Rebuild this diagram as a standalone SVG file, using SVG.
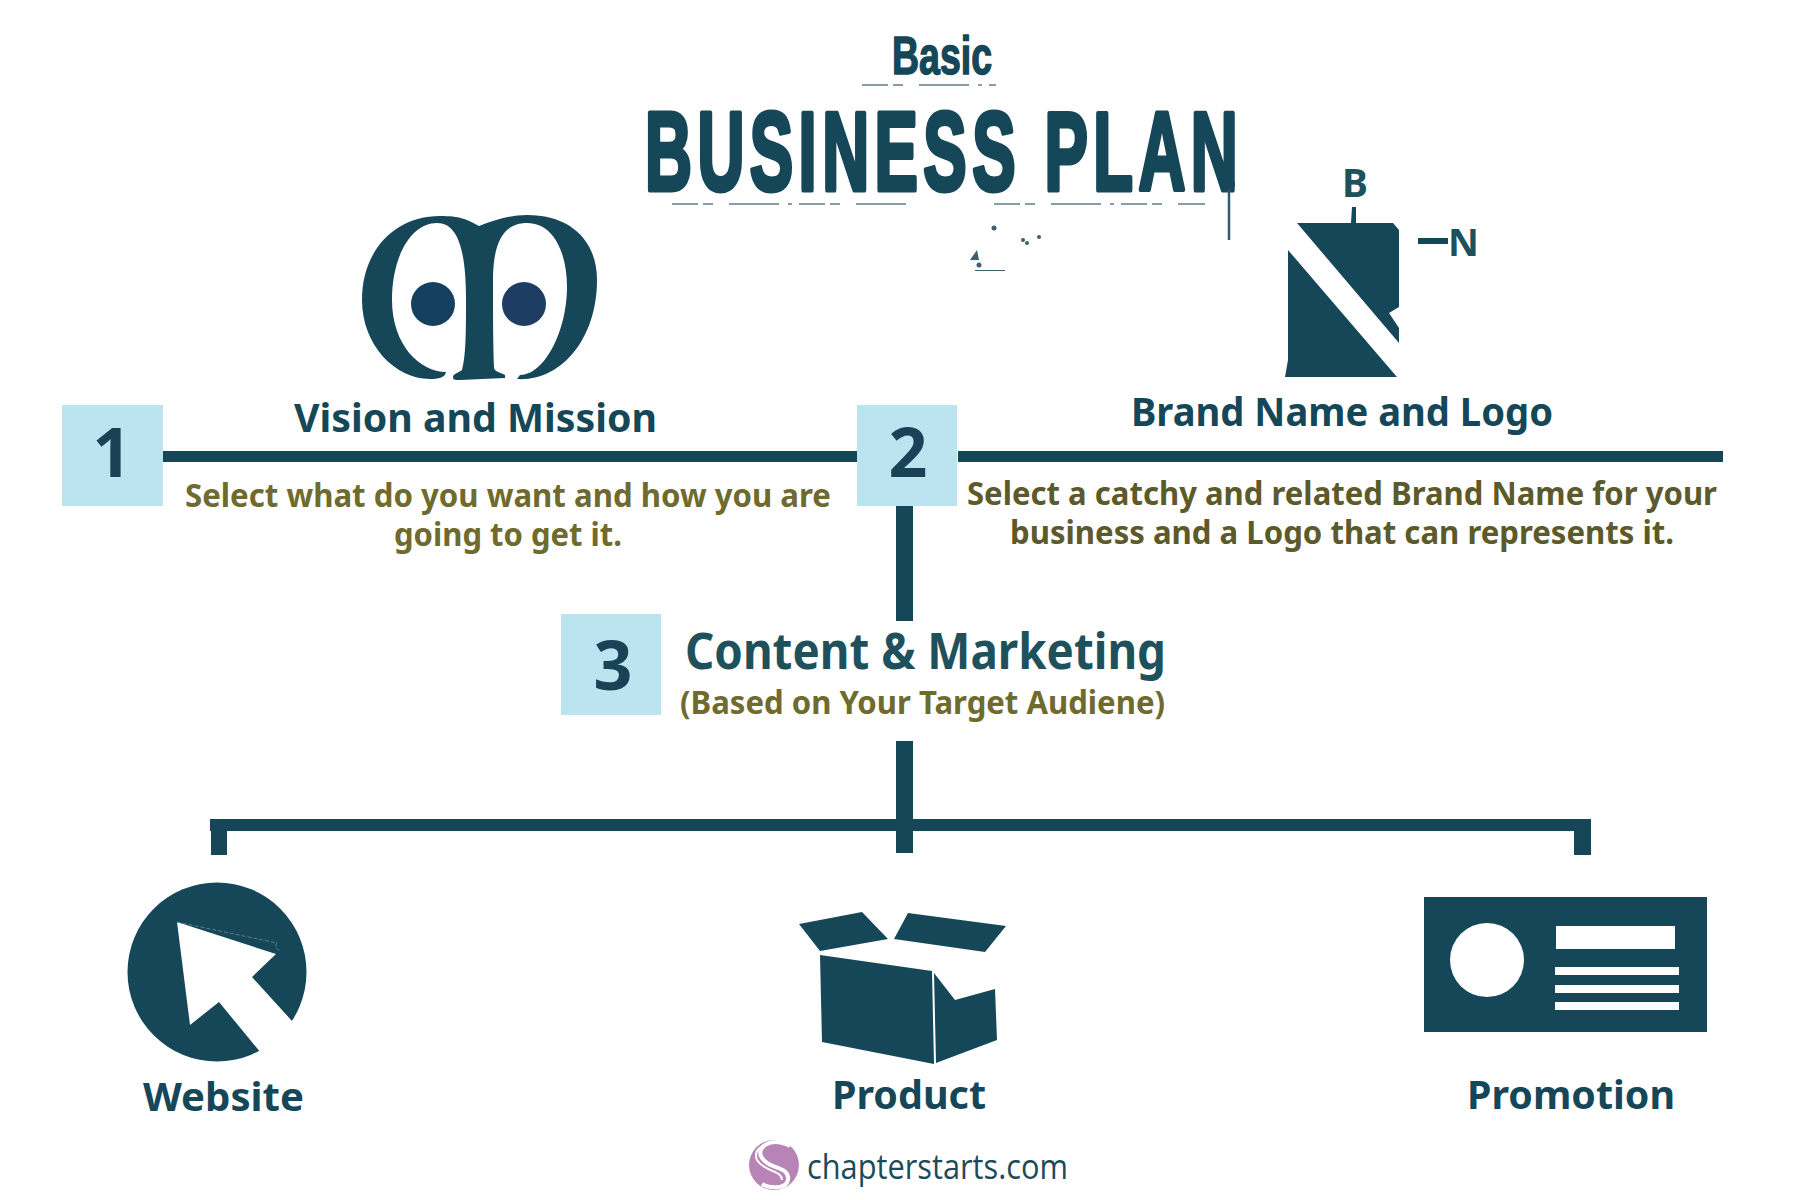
<svg xmlns="http://www.w3.org/2000/svg" width="1800" height="1200" viewBox="0 0 1800 1200">
<style>
text{font-family:"Noto Sans","Open Sans",sans-serif;font-weight:700}
.d{fill:#154758}
.box{fill:#bbe3f0}
.num{font-size:68px;fill:#1a4256;text-anchor:middle}
.head{font-size:40px;fill:#154758}
.ol{font-size:33px;fill:#6f6a2e}
.ol2{font-size:33px;fill:#5c5a2b}
.br{font-family:"Liberation Sans",Arial,sans-serif;fill:#154758;stroke:#154758;stroke-linejoin:round}
.tex{stroke:#5f7d89;stroke-width:1.6;fill:none;stroke-dasharray:26 5 10 16 50 9 4 7}
</style>
<rect width="1800" height="1200" fill="#fff"/>
<g id="title">
<text class="br" x="892" y="74" font-size="54" stroke-width="1.5" textLength="100" lengthAdjust="spacingAndGlyphs">Basic</text>
<text class="br" transform="translate(645 190) scale(.58 1)" font-size="112" stroke-width="5" textLength="1022" lengthAdjust="spacing">BUSINESS PLAN</text>
<path class="tex" d="M862 85H996M672 204H908M994 204H1205"/>
<path d="M1229 186V240" stroke="#345c6b" stroke-width="2.5"/>
<circle cx="1229" cy="184" r="6" class="d"/>
<g fill="#3d6170"><circle cx="994" cy="228" r="2.5"/><circle cx="1023" cy="240" r="2"/><circle cx="1027" cy="243" r="2"/><circle cx="1039" cy="237" r="2"/><circle cx="979" cy="265" r="2.5"/><path d="M970 260l7-10 2 10zM975 270h30v1h-30z"/></g>
</g>
<g id="connectors" class="d">
<rect x="163" y="451" width="694" height="11"/>
<rect x="958" y="451" width="765" height="11"/>
<rect x="896" y="506" width="17" height="115"/>
<rect x="896" y="741" width="17" height="112"/>
<rect x="210" y="819" width="1381" height="12"/>
<rect x="211" y="819" width="16" height="36"/>
<rect x="1574" y="819" width="17" height="36"/>
</g>
<g id="node-1">
<rect class="box" x="62" y="405" width="101" height="101"/>
<text class="num" x="112" y="477">1</text>
</g>
<g id="node-2">
<rect class="box" x="857" y="405" width="100" height="101"/>
<text class="num" x="908" y="477">2</text>
</g>
<g id="node-3">
<rect class="box" x="561" y="614" width="100" height="101"/>
<text class="num" x="613" y="690">3</text>
<text x="685" y="669" font-size="50" fill="#1f515c" textLength="481" lengthAdjust="spacingAndGlyphs">Content &amp; Marketing</text>
<text class="ol" x="680" y="714" textLength="485" lengthAdjust="spacingAndGlyphs">(Based on Your Target Audiene)</text>
</g>
<g id="vision">
<path class="d" d="M479 226C466 219 460 216 440 216C395 216 362 250 362 300C362 345 395 379 430 379C438 379 445 378 446 372C420 372 392 345 392 300C392 255 412 223 437 223C458 223 466 250 466 300C466 330 466 355 462 370C458 373 453 374 453 377C453 380 455 380 460 380C475 379 490 379 505 378L505 375C500 372 494 372 494 367C493 340 493 300 493 280C493 240 505 223 527 223C555 223 567 255 567 287C567 330 545 375 520 375L517 379C560 382 597 340 597 280C597 240 570 215 527 215C510 215 495 220 479 226Z"/>
<circle cx="433" cy="304" r="22" fill="#16405f"/>
<circle cx="524" cy="304" r="22" fill="#1d3d63"/>
<text class="head" x="294" y="432" textLength="363" lengthAdjust="spacingAndGlyphs">Vision and Mission</text>
<text class="ol" x="185" y="507" textLength="646" lengthAdjust="spacingAndGlyphs">Select what do you want and how you are</text>
<text class="ol" x="394" y="546" textLength="228" lengthAdjust="spacingAndGlyphs">going to get it.</text>
</g>
<g id="brand">
<path class="d" d="M1297 223H1393L1399 230V307L1389 313L1399 328V343ZM1288 250L1397 377H1285L1288 360ZM1351 223L1352 207H1356V223ZM1418 238H1448V244H1418Z"/>
<text x="1355" y="197" font-size="39" fill="#1f515c" text-anchor="middle">B</text>
<text x="1448" y="256" font-size="38" fill="#1f515c">N</text>
<text class="head" x="1131" y="426" textLength="422" lengthAdjust="spacingAndGlyphs">Brand Name and Logo</text>
<text class="ol2" x="967" y="505" textLength="750" lengthAdjust="spacingAndGlyphs">Select a catchy and related Brand Name for your</text>
<text class="ol2" x="1010" y="544" textLength="664" lengthAdjust="spacingAndGlyphs">business and a Logo that can represents it.</text>
</g>
<g id="website">
<circle class="d" cx="217" cy="972" r="89.5"/>
<path fill="#fff" d="M177 922L276 954L252 977L312 1043L279 1075L219 1002L190 1025Z"/>
<path d="M177 922L277 943L275 947L280 951" fill="none" stroke="#5f7d89" stroke-width="1" stroke-dasharray="4 2"/>
<text class="head" x="143" y="1111" textLength="161" lengthAdjust="spacingAndGlyphs">Website</text>
</g>
<g id="product">
<path class="d" d="M799 924L862 912L888 939L820 951ZM908 913L1006 926L985 952L894 939ZM820 955L932 971L934 1064L822 1042ZM934 973L955 1000L995 989L997 1040L936 1063Z"/>
<text class="head" x="832" y="1109" textLength="154" lengthAdjust="spacingAndGlyphs">Product</text>
</g>
<g id="promotion">
<rect class="d" x="1424" y="897" width="283" height="135"/>
<g fill="#fff">
<circle cx="1487" cy="960" r="37"/>
<rect x="1556" y="926" width="119" height="23"/>
<rect x="1555" y="967" width="124" height="8"/>
<rect x="1555" y="985" width="124" height="8"/>
<rect x="1555" y="1002" width="124" height="8"/>
</g>
<text class="head" x="1467" y="1109" textLength="208" lengthAdjust="spacingAndGlyphs">Promotion</text>
</g>
<g id="footer">
<circle cx="774" cy="1165" r="25" fill="#b884b8"/>
<path d="M790 1146C770 1136 755 1148 762 1158C770 1170 790 1166 788 1180C786 1190 768 1188 762 1184" fill="none" stroke="#fff" stroke-width="4"/>
<path d="M782 1143C768 1140 752 1148 757 1160C764 1172 782 1170 782 1180" fill="none" stroke="#fff" stroke-width="2"/>
<text x="807" y="1179" font-size="34" fill="#1c4a5a" style="font-family:'Open Sans','Noto Sans',sans-serif;font-weight:400" textLength="261" lengthAdjust="spacingAndGlyphs">chapterstarts.com</text>
</g>
</svg>
